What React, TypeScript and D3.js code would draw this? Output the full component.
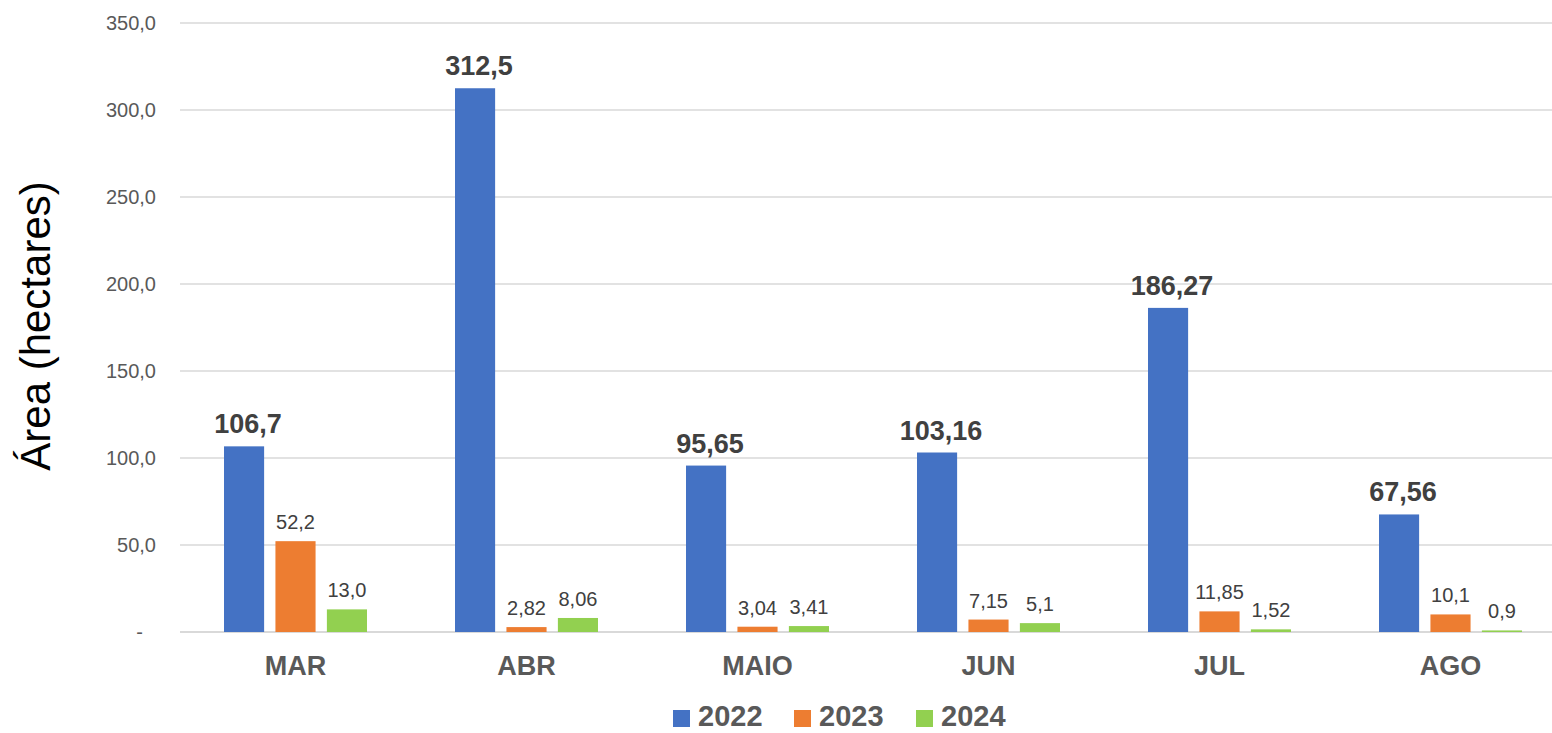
import * as d3 from 'd3'
import React, { useRef, useEffect } from 'react'

const months = ['MAR', 'ABR', 'MAIO', 'JUN', 'JUL', 'AGO']
const years = ['2022', '2023', '2024']
const values2022 = [106.7, 312.5, 95.65, 103.16, 186.27, 67.56]
const values2023 = [52.2, 2.82, 3.04, 7.15, 11.85, 10.1]
const values2024 = [13.0, 8.06, 3.41, 5.1, 1.52, 0.9]
const labels2022 = ['106,7', '312,5', '95,65', '103,16', '186,27', '67,56']
const labels2023 = ['52,2', '2,82', '3,04', '7,15', '11,85', '10,1']
const labels2024 = ['13,0', '8,06', '3,41', '5,1', '1,52', '0,9']
const yTicks = [0, 50, 100, 150, 200, 250, 300, 350]
const colors = ['#4472C4', '#ED7D31', '#92D050']

const FONT = '"Liberation Sans", Arial, sans-serif'

const App = () => {
  const ref = useRef(null)

  useEffect(() => {
    draw()
  }, [])

  const draw = () => {
    const W = 1552
    const H = 733
    const svg = d3.select(ref.current).attr('width', W).attr('height', H)
    svg.selectAll('*').remove()

    const plotLeft = 180
    const plotRight = 1566
    const yScale = d3.scaleLinear().domain([0, 350]).range([632, 23])
    const xScale = d3.scaleBand().domain(months).range([plotLeft, plotRight]).paddingInner(0).paddingOuter(0)
    const inner = d3.scaleBand().domain(years).range([44, xScale.bandwidth() - 44]).paddingInner(0.22)

    const series = [values2022, values2023, values2024]
    const labels = [labels2022, labels2023, labels2024]

    // gridlines
    svg
      .selectAll('.grid')
      .data(yTicks)
      .enter()
      .append('line')
      .attr('x1', plotLeft)
      .attr('x2', W)
      .attr('y1', (d) => yScale(d))
      .attr('y2', (d) => yScale(d))
      .attr('stroke', '#D9D9D9')
      .attr('stroke-width', (d) => (d === 0 ? 2 : 1.3))

    // y tick labels
    svg
      .selectAll('.ytick')
      .data(yTicks)
      .enter()
      .append('text')
      .attr('x', (d) => (d === 0 ? 143 : 156))
      .attr('y', (d) => yScale(d))
      .attr('dy', '0.36em')
      .attr('text-anchor', 'end')
      .attr('font-family', FONT)
      .attr('font-size', 20)
      .attr('fill', '#595959')
      .text((d) => (d === 0 ? '-' : d3.format('.1f')(d).replace('.', ',')))

    // bars + labels
    series.forEach((vals, si) => {
      const g = svg.append('g')
      g.selectAll('rect')
        .data(vals)
        .enter()
        .append('rect')
        .attr('x', (d, i) => (xScale(months[i]) as number) + (inner(years[si]) as number))
        .attr('y', (d) => yScale(d))
        .attr('width', inner.bandwidth())
        .attr('height', (d) => yScale(0) - yScale(d))
        .attr('fill', colors[si])

      g.selectAll('text')
        .data(vals)
        .enter()
        .append('text')
        .attr('x', (d, i) => (xScale(months[i]) as number) + (inner(years[si]) as number) + inner.bandwidth() / 2 + (si === 0 ? 4 : 0))
        .attr('y', (d) => yScale(d) - (si === 0 ? 13 : 12))
        .attr('text-anchor', 'middle')
        .attr('font-family', FONT)
        .attr('font-size', si === 0 ? 27 : 20)
        .attr('font-weight', si === 0 ? 'bold' : 'normal')
        .attr('fill', '#404040')
        .text((d, i) => labels[si][i])
    })

    // category labels
    svg
      .selectAll('.cat')
      .data(months)
      .enter()
      .append('text')
      .attr('x', (d) => (xScale(d) as number) + xScale.bandwidth() / 2)
      .attr('y', 675)
      .attr('text-anchor', 'middle')
      .attr('font-family', FONT)
      .attr('font-size', 27)
      .attr('font-weight', 'bold')
      .attr('fill', '#595959')
      .text((d) => d)

    // y axis title
    svg
      .append('text')
      .attr('transform', 'translate(50,326) rotate(-90)')
      .attr('text-anchor', 'middle')
      .attr('font-family', FONT)
      .attr('font-size', 42)
      .attr('fill', '#000')
      .text('Área (hectares)')

    // legend
    const legendX = [673, 794, 916]
    const legend = svg.selectAll('.leg').data(years).enter().append('g')
    legend
      .append('rect')
      .attr('x', (d, i) => legendX[i])
      .attr('y', 710)
      .attr('width', 17)
      .attr('height', 17)
      .attr('fill', (d, i) => colors[i])
    legend
      .append('text')
      .attr('x', (d, i) => legendX[i] + 25)
      .attr('y', 726)
      .attr('font-family', FONT)
      .attr('font-size', 29)
      .attr('font-weight', 'bold')
      .attr('fill', '#595959')
      .text((d) => d)
  }

  return <svg ref={ref} style={{ position: 'absolute', left: 0, top: 0, background: '#fff' }} />
}

export default App
